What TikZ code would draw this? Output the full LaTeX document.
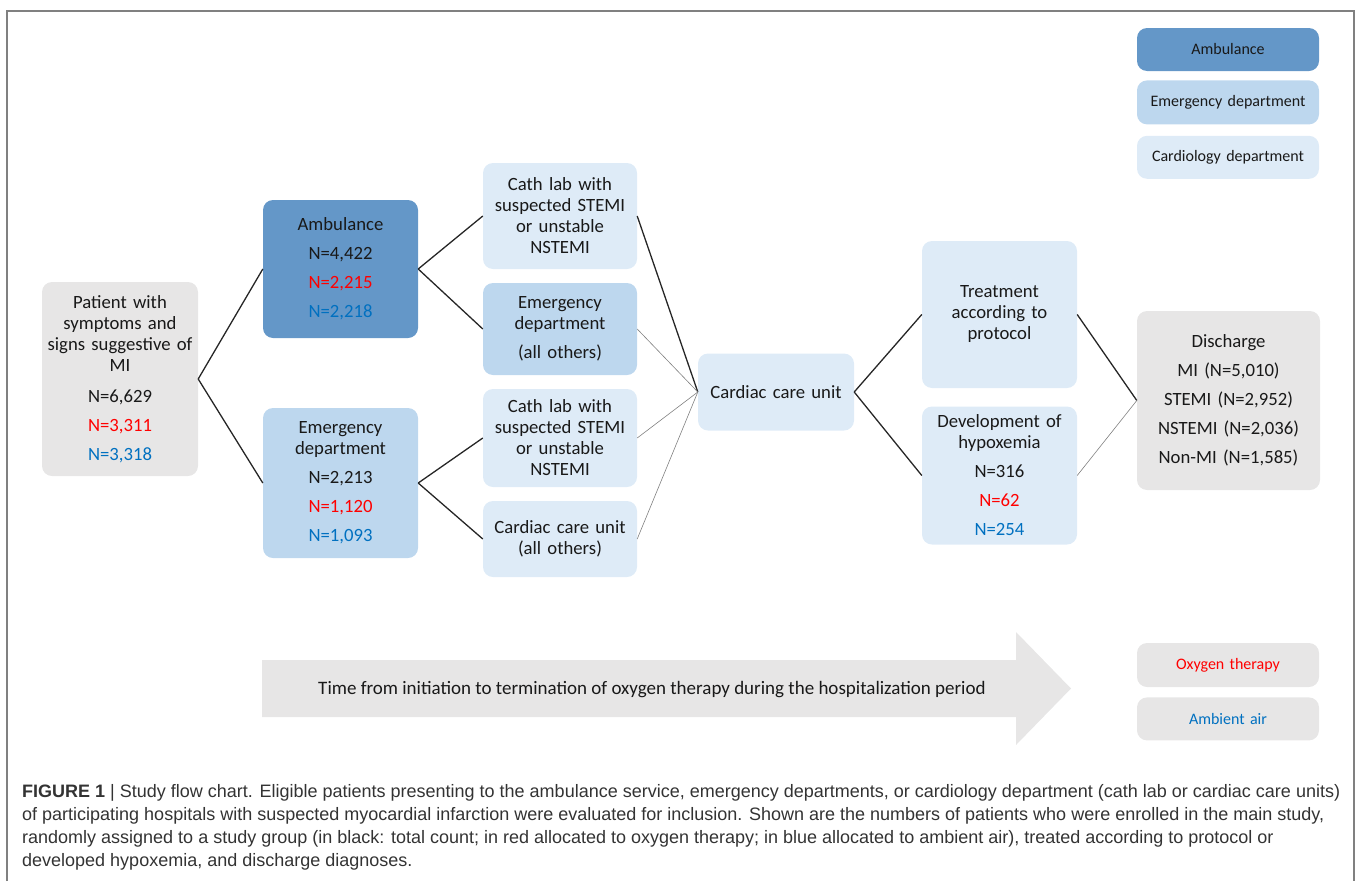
\documentclass[tikz,border=0pt]{standalone}
\usepackage{fontspec}
\setmainfont{Carlito}
\newfontfamily\captionfont{Liberation Sans}
\usetikzlibrary{positioning}
\definecolor{ambblue}{RGB}{100,151,200}
\definecolor{edblue}{RGB}{189,215,238}
\definecolor{cardblue}{RGB}{222,235,247}
\definecolor{boxgray}{RGB}{231,230,230}
\definecolor{oxred}{RGB}{255,0,0}
\definecolor{airblue}{RGB}{0,112,192}
\definecolor{frameline}{RGB}{128,128,128}

\begin{document}
\begin{tikzpicture}[x=1pt,y=-1pt,every node/.style={inner sep=0pt},
    box/.style={rounded corners=10pt,align=center,text=black!90,font=\fontsize{18.7}{21}\selectfont},
    ambbox/.style={box,fill=ambblue},
    edbox/.style={box,fill=edblue},
    cardbox/.style={box,fill=cardblue},
    graybox/.style={box,fill=boxgray},
    legend/.style={text width=182pt,minimum height=43pt,font=\fontsize{16}{19}\selectfont},
    link/.style={draw=black!85,line width=1.3pt},
    faint/.style={draw=black!50,line width=0.6pt}]
      \useasboundingbox (0,0) rectangle (1357,881);
      \draw[frameline,line width=1.2pt] (7,881) -- (7,11) -- (1354,11) -- (1354,881);

      % legend
      \node[ambbox,legend]                                  (LegAmbulance) at (1228,49.5) {Ambulance};
      \node[edbox,legend,minimum height=44pt,below=9pt of LegAmbulance] (LegEmerg)  {Emergency department};
      \node[cardbox,legend,below=11pt of LegEmerg]          (LegCardio)    {Cardiology department};

      % flow chart
      \node[graybox,text width=156pt,minimum height=194pt] (Patient)     at (120,379)  {Patient with\\ symptoms and\\ signs suggestive of\\ MI\\[10pt] N=6,629\\[8pt] \textcolor{oxred}{N=3,311}\\[8pt] \textcolor{airblue}{N=3,318}};
      \node[ambbox,text width=155pt,minimum height=138pt]  (Ambulance)   at (340.5,269) {Ambulance\\[8pt] N=4,422\\[8pt] \textcolor{oxred}{N=2,215}\\[8pt] \textcolor{airblue}{N=2,218}};
      \node[edbox,text width=155pt,minimum height=150pt]   (EmergDept)   at (340.5,483) {Emergency\\ department\\[8pt] N=2,213\\[8pt] \textcolor{oxred}{N=1,120}\\[8pt] \textcolor{airblue}{N=1,093}};
      \node[cardbox,text width=154pt,minimum height=106pt] (CathLabA)    at (560,216)   {Cath lab with\\ suspected STEMI\\ or unstable\\ NSTEMI};
      \node[edbox,text width=154pt,minimum height=92pt]    (EmergOthers) at (560,329)   {Emergency\\ department\\[8pt] (all others)};
      \node[cardbox,text width=154pt,minimum height=98pt]  (CathLabB)    at (560,438)   {Cath lab with\\ suspected STEMI\\ or unstable\\ NSTEMI};
      \node[cardbox,text width=154pt,minimum height=76pt]  (CcuOthers)   at (560,539)   {Cardiac care unit\\ (all others)};
      \node[cardbox,text width=156pt,minimum height=77pt]  (Ccu)         at (776,392)   {Cardiac care unit};
      \node[cardbox,text width=155pt,minimum height=147pt] (Treatment)   at (999.5,314.5) {Treatment\\ according to\\ protocol};
      \node[cardbox,text width=155pt,minimum height=138pt] (Hypoxemia)   at (999.5,475.5) {Development of\\ hypoxemia\\[8pt] N=316\\[8pt] \textcolor{oxred}{N=62}\\[8pt] \textcolor{airblue}{N=254}};
      \node[graybox,text width=183pt,minimum height=179pt] (Discharge)   at (1228.5,400.5) {Discharge\\[8pt] MI (N=5,010)\\[8pt] STEMI (N=2,952)\\[8pt] NSTEMI (N=2,036)\\[8pt] Non-MI (N=1,585)};

      \path (Patient.east)     edge[link]  (Ambulance.west)
            (Patient.east)     edge[link]  (EmergDept.west)
            (Ambulance.east)   edge[link]  (CathLabA.west)
            (Ambulance.east)   edge[link]  (EmergOthers.west)
            (EmergDept.east)   edge[link]  (CathLabB.west)
            (EmergDept.east)   edge[link]  (CcuOthers.west)
            (CathLabA.east)    edge[link]  (Ccu.west)
            (EmergOthers.east) edge[faint] (Ccu.west)
            (CathLabB.east)    edge[faint] (Ccu.west)
            (CcuOthers.east)   edge[faint] (Ccu.west)
            (Ccu.east)         edge[link]  (Treatment.west)
            (Ccu.east)         edge[link]  (Hypoxemia.west)
            (Treatment.east)   edge[link]  (Discharge.west)
            (Hypoxemia.east)   edge[faint] (Discharge.west);

      % time arrow
      \fill[boxgray] (262,660) -- (1016,660) -- (1016,632) -- (1071,688.5) -- (1016,745) -- (1016,717) -- (262,717) -- cycle;
      \node[text=black!90,font=\fontsize{19}{21}\selectfont] (TimeText) at (652,690) {Time from initiation to termination of oxygen therapy during the hospitalization period};

      \node[graybox,legend,minimum height=44pt,text=oxred]  (LegOxygen) at (1228,665) {Oxygen therapy};
      \node[graybox,legend,text=airblue,below=10pt of LegOxygen] (LegAir) {Ambient air};

      % caption
      \node[anchor=north west,align=left,text=black!80,font=\captionfont\fontsize{18}{23}\selectfont] (Caption) at (22,784)
        {\textbf{FIGURE 1} | Study flow chart. Eligible patients presenting to the ambulance service, emergency departments, or cardiology department (cath lab or cardiac care units)\\
         of participating hospitals with suspected myocardial infarction were evaluated for inclusion. Shown are the numbers of patients who were enrolled in the main study,\\
         randomly assigned to a study group (in black: total count; in red allocated to oxygen therapy; in blue allocated to ambient air), treated according to protocol or\\
         developed hypoxemia, and discharge diagnoses.};
\end{tikzpicture}
\end{document}
